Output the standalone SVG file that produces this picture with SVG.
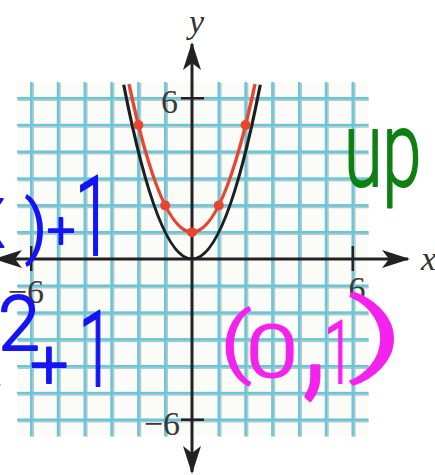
<svg xmlns="http://www.w3.org/2000/svg" width="435" height="475" viewBox="0 0 435 475">
  <defs>
    <style>
      .gridShadow { fill: none; stroke: #b3c9ce; stroke-width: 4; }
      .grid { fill: none; stroke: #62c8da; stroke-width: 2.2; }
      .axis { fill: none; stroke: #222; stroke-width: 3; }
      .tick { fill: none; stroke: #222; stroke-width: 2.5; }
      .num { font-family: "Liberation Serif", "Times New Roman", serif; font-size: 34px; fill: #3a3a3a; }
      .var { font-family: "Liberation Serif", "Times New Roman", serif; font-style: italic; font-size: 34px; fill: #333; }
      .hand { font-family: Roboto, "Liberation Sans", sans-serif; font-weight: 300; stroke-linejoin: round; stroke-linecap: round; }
      .blue { fill: #1414f5; stroke: #1414f5; stroke-width: 1.8; }
      .pink { fill: #f522ee; stroke: #f522ee; stroke-width: 1.8; }
      .green { fill: #0e7f12; stroke: #0e7f12; stroke-width: 1.8; }
      .dot { fill: #e8452f; }
    </style>
    <marker id="arrow" markerUnits="userSpaceOnUse" viewBox="0 0 28 18" refX="26" refY="9" markerWidth="28" markerHeight="18" orient="auto-start-reverse">
      <path d="M0,0 L28,9 L0,18 L7,9 Z" fill="#222"/>
    </marker>
  </defs>
  <rect width="435" height="475" fill="#ffffff"/>
  <g id="grid">
    <rect x="17" y="82" width="351" height="354" fill="#fbfbf7"/>
    <path class="gridShadow" transform="translate(0.8,0.8)" d="M31.2,82V436M58,82V436M84.8,82V436M111.6,82V436M138.4,82V436M165.2,82V436M218.8,82V436M245.6,82V436M272.4,82V436M299.2,82V436M326,82V436M352.8,82V436M17,98.2H368M17,125H368M17,151.8H368M17,178.6H368M17,205.4H368M17,232.2H368M17,285.8H368M17,312.6H368M17,339.4H368M17,366.2H368M17,393H368M17,419.8H368"/>
    <path class="grid" d="M31.2,82V436M58,82V436M84.8,82V436M111.6,82V436M138.4,82V436M165.2,82V436M218.8,82V436M245.6,82V436M272.4,82V436M299.2,82V436M326,82V436M352.8,82V436M17,98.2H368M17,125H368M17,151.8H368M17,178.6H368M17,205.4H368M17,232.2H368M17,285.8H368M17,312.6H368M17,339.4H368M17,366.2H368M17,393H368M17,419.8H368"/>
  </g>
  <g id="axes">
    <line class="axis" x1="-4" y1="259" x2="408" y2="259" marker-start="url(#arrow)" marker-end="url(#arrow)"/>
    <line class="axis" x1="192" y1="44" x2="192" y2="472" marker-start="url(#arrow)" marker-end="url(#arrow)"/>
    <path class="tick" d="M31.2,246V271M352.8,246V271M181,98.2H204M181,419.8H204"/>
    <text class="var" x="189" y="33">y</text>
    <text class="var" x="421" y="270">x</text>
    <text class="num" x="178" y="113" text-anchor="end">6</text>
    <text class="num" x="180" y="435" text-anchor="end">−6</text>
    <text class="num" x="44" y="303" text-anchor="end">−6</text>
    <text class="num" x="357" y="300" text-anchor="middle">6</text>
  </g>
  <g id="curves">
    <path d="M123.7,84.7 Q192,433.3 260.3,84.7" fill="none" stroke="#1e1e1e" stroke-width="3.2"/>
    <path d="M129,84.2 Q192,380.2 255,84.2" fill="none" stroke="#e8452f" stroke-width="3.4"/>
    <circle class="dot" cx="138.4" cy="125" r="5"/>
    <circle class="dot" cx="245.6" cy="125" r="5"/>
    <circle class="dot" cx="165.2" cy="205.4" r="5"/>
    <circle class="dot" cx="218.8" cy="205.4" r="5"/>
    <circle class="dot" cx="192" cy="232.2" r="5"/>
  </g>
  <g id="note-fx-plus-1" class="hand blue">
    <text x="-38" y="247" font-size="90">x</text>
    <text x="25" y="250" font-size="68">)</text>
    <text x="47" y="247" font-size="50">+</text>
    <text transform="translate(88,255) scale(0.6,1)" x="-22" y="0" font-size="112">1</text>
  </g>
  <g id="note-x2-plus-1" class="hand blue">
    <text x="-42" y="385" font-size="90">x</text>
    <text x="-2" y="350" font-size="76">2</text>
    <text x="30" y="388" font-size="68">+</text>
    <text transform="translate(91,386) scale(0.6,1)" x="-21" y="0" font-size="105">1</text>
  </g>
  <g id="note-vertex" class="hand pink">
    <text transform="translate(220,368) scale(1.3,1)" x="0" y="0" font-size="76">(</text>
    <text transform="translate(250,377) scale(1.3,1)" x="-3" y="0" font-size="72">0</text>
    <text transform="translate(302,380) scale(1.6,1.9)" x="0" y="0" font-size="80">,</text>
    <text transform="translate(336,383) scale(0.6,1)" x="-20" y="0" font-size="88">1</text>
    <text transform="translate(352,364) scale(2,1)" x="-2" y="0" font-size="88">)</text>
  </g>
  <g id="note-up" class="hand green">
    <text transform="translate(344,186) scale(0.7,1.05)" x="0" y="0" font-size="100">up</text>
  </g>
</svg>
